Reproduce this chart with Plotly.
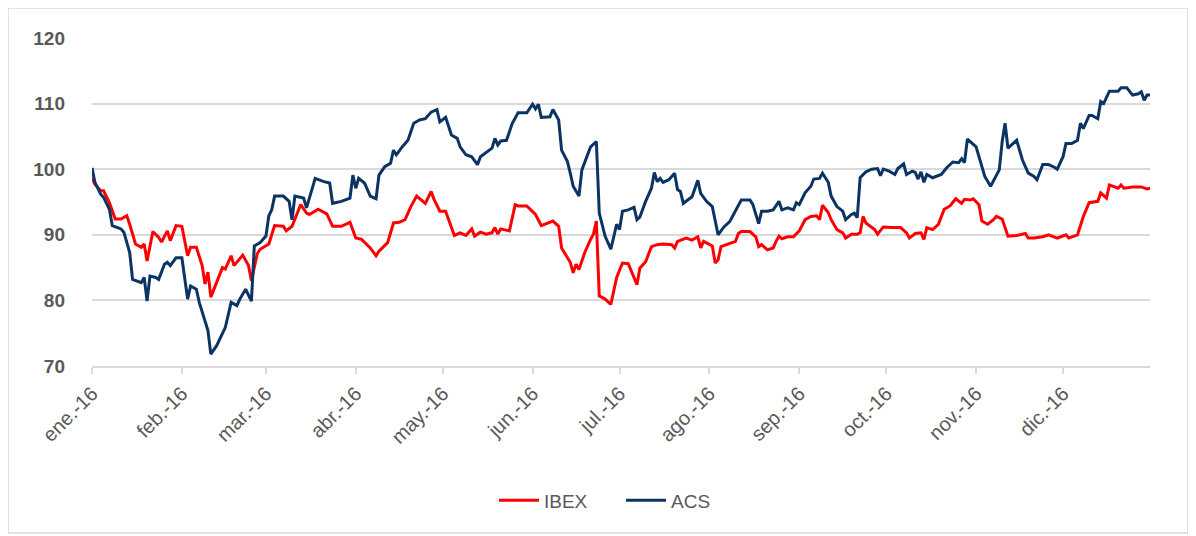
import pandas as pd
import plotly.graph_objects as go

# Day-of-year offsets (from 1 Jan 2016) and index values
ibex_days = [0, 1, 3, 4, 6, 8, 10, 12, 13, 15, 17, 18, 19, 21, 23, 24, 26, 27, 29, 31,
             33, 34, 36, 38, 39, 40, 41, 43, 45, 46, 48, 49, 52, 54, 55, 57, 58, 61, 63, 66,
             67, 69, 72, 74, 75, 78, 81, 83, 86, 89, 91, 93, 96, 98, 99, 102, 104, 106, 108, 110,
             112, 115, 117, 118, 120, 122, 125, 127, 129, 131, 132, 134, 136, 138, 139, 140, 141, 144, 146, 147,
             150, 153, 154, 155, 159, 161, 162, 164, 165, 166, 167, 168, 170, 172, 173, 174, 175, 177, 179, 181,
             183, 185, 187, 188, 189, 191, 193, 195, 197, 200, 201, 202, 205, 207, 209, 210, 211, 214, 215, 216,
             217, 220, 222, 223, 224, 227, 229, 230, 231, 233, 235, 236, 237, 238, 240, 242, 244, 246, 248, 250,
             251, 252, 254, 255, 257, 259, 260, 262, 264, 265, 266, 267, 270, 271, 273, 276, 279, 281, 282, 284,
             286, 287, 288, 290, 292, 294, 296, 298, 300, 301, 303, 304, 306, 307, 309, 311, 312, 314, 316, 319,
             322, 323, 325, 328, 330, 333, 336, 337, 340, 342, 344, 347, 348, 350, 351, 354, 355, 356, 359, 362,
             364, 365]
ibex_vals = [98.7, 97.7, 96.7, 96.7, 94.9, 92.4, 92.4, 92.9, 91.6, 88.6, 88.1, 88.6, 86.0, 90.5, 89.6, 88.9, 90.6, 89.1, 91.4, 91.3,
             86.8, 88.1, 88.1, 85.3, 82.5, 84.3, 80.5, 82.7, 85.0, 84.8, 86.8, 85.3, 86.9, 85.3, 83.0, 87.1, 87.8, 88.6, 91.4, 91.3,
             90.6, 91.3, 94.6, 93.3, 93.1, 93.9, 93.2, 91.3, 91.3, 91.9, 89.5, 89.3, 88.0, 86.8, 87.5, 88.8, 91.8, 91.9, 92.3, 94.3,
             95.9, 94.8, 96.6, 95.4, 93.6, 93.6, 89.9, 90.3, 89.9, 90.9, 89.8, 90.4, 90.1, 90.3, 91.1, 90.1, 90.9, 90.6, 94.6, 94.4,
             94.4, 93.1, 92.3, 91.4, 92.1, 91.3, 88.0, 86.5, 85.8, 84.2, 85.5, 84.7, 87.3, 89.3, 90.1, 92.1, 80.7, 80.2, 79.4, 83.5,
             85.7, 85.6, 83.4, 82.4, 84.9, 85.9, 88.2, 88.5, 88.6, 88.5, 88.0, 89.0, 89.5, 89.2, 89.7, 88.0, 89.0, 88.3, 85.7, 86.2,
             88.2, 88.7, 89.0, 90.2, 90.5, 90.5, 89.7, 88.2, 88.5, 87.7, 88.0, 89.0, 89.8, 89.4, 89.7, 89.7, 90.6, 92.3, 92.8, 92.9,
             92.3, 94.5, 93.4, 92.3, 90.8, 90.3, 89.5, 90.1, 90.1, 90.3, 92.8, 91.8, 90.8, 90.1, 91.2, 91.1, 91.1, 90.3, 89.5, 90.2,
             90.3, 89.3, 91.1, 90.8, 91.6, 93.9, 94.4, 95.5, 94.8, 95.4, 95.3, 95.5, 94.6, 92.1, 91.6, 92.3, 92.8, 92.4, 89.8, 89.9,
             90.2, 89.5, 89.5, 89.7, 90.0, 89.5, 90.0, 89.5, 90.0, 92.8, 94.9, 95.1, 96.4, 95.6, 97.6, 97.1, 97.6, 97.1, 97.3, 97.3,
             97.0, 97.1]

acs_days = [0, 1, 3, 4, 6, 7, 10, 11, 13, 14, 17, 18, 19, 20, 22, 23, 25, 26, 27, 29,
            31, 33, 34, 36, 37, 39, 40, 41, 43, 46, 48, 50, 51, 53, 55, 56, 58, 60, 61, 62,
            63, 66, 68, 69, 70, 73, 74, 77, 80, 82, 83, 86, 89, 90, 91, 92, 94, 96, 98, 99,
            101, 103, 104, 105, 107, 109, 111, 113, 115, 117, 119, 120, 121, 122, 124, 126, 127, 129, 131, 133,
            134, 136, 138, 139, 140, 141, 143, 145, 147, 150, 152, 153, 154, 155, 158, 159, 161, 162, 164, 165,
            166, 168, 169, 172, 174, 175, 177, 179, 181, 182, 183, 185, 187, 188, 189, 191, 193, 194, 195, 196,
            197, 199, 201, 202, 203, 204, 207, 209, 210, 212, 214, 216, 218, 220, 222, 224, 227, 228, 230, 231,
            233, 235, 237, 238, 240, 242, 243, 244, 246, 248, 249, 251, 252, 254, 255, 257, 259, 260, 262, 263,
            264, 265, 267, 269, 271, 272, 273, 275, 277, 278, 280, 281, 283, 284, 285, 286, 287, 288, 290, 293,
            295, 297, 299, 300, 301, 302, 305, 307, 308, 310, 312, 313, 314, 315, 316, 319, 321, 323, 325, 326,
            328, 330, 332, 333, 335, 336, 338, 340, 341, 342, 344, 345, 347, 348, 349, 351, 354, 355, 357, 359,
            361, 362, 363, 364, 365]
acs_vals = [100.2, 98.0, 96.2, 95.7, 93.9, 91.4, 90.9, 90.4, 87.3, 83.2, 82.7, 83.5, 79.9, 83.7, 83.5, 83.2, 85.5, 85.8, 85.3, 86.5,
            86.5, 80.2, 82.2, 81.7, 79.7, 76.6, 75.4, 71.8, 73.1, 75.9, 79.7, 79.2, 80.2, 81.7, 79.9, 88.3, 88.8, 89.8, 92.9, 93.8,
            95.9, 95.9, 95.1, 92.3, 95.9, 95.6, 94.1, 98.6, 98.1, 97.9, 94.8, 95.1, 95.6, 99.1, 97.1, 98.6, 97.9, 95.9, 95.5, 99.1,
            100.4, 100.9, 102.9, 102.2, 103.4, 104.4, 107.0, 107.5, 107.7, 108.7, 109.1, 107.2, 107.6, 107.9, 105.2, 104.7, 103.4, 102.2, 101.9, 100.7,
            101.9, 102.5, 103.2, 104.7, 103.7, 104.3, 104.4, 107.0, 108.6, 108.6, 109.9, 109.2, 109.9, 107.9, 108.0, 109.1, 107.5, 102.9, 101.2, 99.4,
            97.4, 95.9, 99.9, 103.4, 104.2, 93.3, 89.8, 87.8, 91.6, 90.8, 93.6, 93.8, 94.2, 92.3, 92.7, 95.1, 97.1, 99.5, 98.1, 98.6,
            98.0, 98.4, 99.4, 96.9, 96.6, 94.8, 95.8, 98.3, 96.3, 95.1, 94.3, 90.0, 91.2, 92.0, 93.6, 95.3, 95.3, 94.6, 91.7, 93.6,
            93.6, 93.8, 95.1, 93.8, 94.1, 93.8, 94.9, 94.6, 96.4, 97.4, 98.5, 98.6, 99.4, 98.0, 95.9, 94.3, 93.6, 92.3, 93.1, 93.3,
            92.6, 98.7, 99.6, 100.0, 100.1, 99.0, 100.0, 99.7, 99.2, 100.1, 100.8, 99.2, 99.7, 99.5, 98.5, 99.6, 98.0, 99.2, 98.7, 99.2,
            100.3, 101.1, 101.0, 101.6, 101.0, 104.6, 103.4, 100.4, 98.9, 97.4, 99.1, 99.9, 104.2, 107.0, 103.2, 104.4, 101.4, 99.4, 98.9, 98.4,
            100.7, 100.7, 100.3, 100.0, 101.9, 103.9, 103.9, 104.4, 107.0, 106.2, 108.2, 108.2, 107.7, 110.3, 110.0, 111.9, 111.9, 112.4, 112.4, 111.3,
            111.5, 111.8, 110.5, 111.3, 111.3]

month_ticks = ["2016-01-01", "2016-02-01", "2016-03-01", "2016-04-01", "2016-05-01", "2016-06-01",
               "2016-07-01", "2016-08-01", "2016-09-01", "2016-10-01", "2016-11-01", "2016-12-01"]
month_labels = ["ene.-16", "feb.-16", "mar.-16", "abr.-16", "may.-16", "jun.-16",
                "jul.-16", "ago.-16", "sep.-16", "oct.-16", "nov.-16", "dic.-16"]
y_ticks = [70, 80, 90, 100, 110, 120]

base = pd.Timestamp("2016-01-01")
ibex_dates = [base + pd.Timedelta(days=d) for d in ibex_days]
acs_dates = [base + pd.Timedelta(days=d) for d in acs_days]

GRID = "#d9d9d9"
TXT = "#595959"
FONT = "Liberation Sans, Arial, sans-serif"

fig = go.Figure()
fig.add_trace(go.Scatter(x=ibex_dates, y=ibex_vals, name="IBEX", mode="lines",
                         line=dict(color="#ff0000", width=3)))
fig.add_trace(go.Scatter(x=acs_dates, y=acs_vals, name="ACS", mode="lines",
                         line=dict(color="#0b3464", width=3)))

fig.update_layout(
    width=1196, height=536,
    margin=dict(l=84, r=54, t=30, b=178),
    paper_bgcolor="white", plot_bgcolor="white",
    font=dict(family=FONT, color=TXT),
    showlegend=True,
    legend=dict(orientation="h", x=0.5, xanchor="center", y=-0.41, yanchor="middle",
                font=dict(size=19, color=TXT), traceorder="normal",
                itemwidth=40, entrywidth=72),
    xaxis=dict(type="date", range=["2016-01-01", "2016-12-31"],
               tickvals=month_ticks, ticktext=month_labels, tickangle=-45,
               tickfont=dict(size=20, color=TXT, family=FONT),
               showgrid=False, zeroline=False,
               showline=True, linecolor=GRID, linewidth=2,
               ticks="outside", ticklen=6, tickcolor=GRID, tickwidth=2),
    yaxis=dict(range=[70, 120], tickvals=y_ticks,
               tickfont=dict(size=19, color=TXT, family=FONT, weight="bold"),
               showgrid=True, gridcolor=GRID, gridwidth=2,
               zeroline=False, showline=False, ticks="", ticklabelstandoff=26),
)

# Light chart border like the spreadsheet chart area
fig.add_shape(type="rect", xref="paper", yref="paper",
              x0=-0.0794, x1=1.0359, y0=-0.509, y1=1.0915,
              line=dict(color=GRID, width=1.5), fillcolor="rgba(0,0,0,0)", layer="below")

fig.write_html("out.html")
